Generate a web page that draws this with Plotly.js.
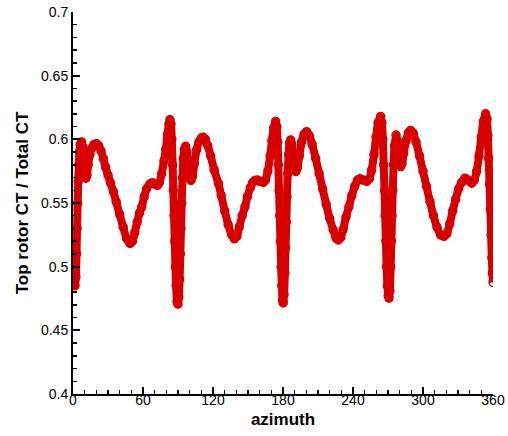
<!DOCTYPE html>
<html>
<head>
<meta charset="utf-8">
<script src="https://cdn.plot.ly/plotly-3.0.1.min.js"></script>
<style>
  html, body { margin: 0; padding: 0; background: #ffffff; }
  #chart { width: 508px; height: 436px; }
</style>
</head>
<body>
<div id="chart"></div>
<script>
// azimuth (deg)
const azimuth = [
  0, 0.5, 1, 1.7, 2.5, 3, 3.5, 4, 4.5, 5, 5.5, 6.2, 7.4, 8.3, 9, 10, 11.1, 12, 13, 14.5,
  16, 18, 20.3, 22, 24, 26, 28, 30, 32, 34.6, 37, 40, 43, 46, 48.9, 51, 53, 55, 57, 58.9,
  61, 63, 66, 68, 70, 72.3, 74, 76, 78, 79.5, 81, 82.2, 83.1, 84, 84.7, 85.4, 86, 86.6, 87.2, 87.8,
  88.4, 89.2, 90.0, 90.7, 91.4, 92, 92.6, 93.2, 93.9, 94.6, 95.4, 96.6, 97.6, 98.5, 99.5, 101.1, 102.5, 104, 106, 108,
  110, 111.7, 113.5, 115.5, 118, 121, 124.6, 127, 130, 133, 136, 138.3, 140.5, 142.5, 145, 147.4, 149.5, 152, 154, 156,
  158, 160, 163.1, 165, 167, 169, 170.5, 172, 173.7, 174.7, 175.4, 176, 176.6, 177.2, 177.8, 178.4, 179, 179.6, 180.2, 180.9,
  181.6, 182.2, 182.8, 183.4, 184, 184.8, 185.6, 186.6, 187.6, 188.6, 189.8, 191.1, 192.5, 194, 196, 198, 200.3, 202.5, 205, 208,
  211, 214, 217, 220, 223, 225.5, 227.4, 229.5, 231.5, 234, 236.5, 239, 241.5, 244, 246, 248.5, 251.7, 254, 256, 258,
  259.8, 261.5, 263.7, 264.8, 265.6, 266.3, 267, 267.6, 268.2, 268.8, 269.5, 270.2, 270.9, 271.6, 272.3, 272.9, 273.5, 274.1, 274.8, 275.6,
  276.9, 277.9, 278.9, 280, 280.9, 282, 283.5, 285.5, 287.5, 289.4, 291.5, 294, 297, 300, 303, 306, 309, 312, 315, 318,
  320.5, 323, 325.5, 328, 330.5, 333, 336, 338.5, 341.7, 344, 346, 348, 350, 351.7, 353.7, 354.8, 355.6, 356.3, 357, 357.7,
  358.4, 359, 359.5, 360
];
// Top rotor CT / Total CT
const ctRatio = [
  0.508, 0.498, 0.489, 0.485, 0.492, 0.510, 0.530, 0.550, 0.567, 0.580, 0.590, 0.596, 0.598, 0.594, 0.585, 0.574, 0.5695, 0.572, 0.580, 0.588,
  0.593, 0.596, 0.5965, 0.595, 0.591, 0.585, 0.578, 0.572, 0.566, 0.559, 0.551, 0.541, 0.531, 0.522, 0.5182, 0.520, 0.527, 0.535, 0.542, 0.547,
  0.555, 0.561, 0.565, 0.566, 0.565, 0.5638, 0.566, 0.573, 0.583, 0.592, 0.604, 0.612, 0.6154, 0.612, 0.600, 0.580, 0.560, 0.540, 0.520, 0.500,
  0.485, 0.4725, 0.4706, 0.476, 0.490, 0.510, 0.530, 0.550, 0.570, 0.585, 0.592, 0.5945, 0.590, 0.580, 0.571, 0.5677, 0.571, 0.581, 0.592, 0.598,
  0.601, 0.6016, 0.600, 0.595, 0.587, 0.576, 0.5655, 0.556, 0.544, 0.533, 0.525, 0.5219, 0.524, 0.531, 0.540, 0.547, 0.555, 0.562, 0.566, 0.5677,
  0.568, 0.567, 0.5661, 0.568, 0.575, 0.587, 0.599, 0.609, 0.6141, 0.610, 0.598, 0.580, 0.560, 0.540, 0.520, 0.500, 0.485, 0.4735, 0.4715, 0.478,
  0.495, 0.515, 0.535, 0.555, 0.573, 0.588, 0.597, 0.5995, 0.596, 0.586, 0.577, 0.5747, 0.578, 0.587, 0.598, 0.604, 0.606, 0.603, 0.596, 0.585,
  0.573, 0.561, 0.549, 0.538, 0.529, 0.5225, 0.521, 0.523, 0.529, 0.539, 0.547, 0.556, 0.563, 0.568, 0.569, 0.568, 0.567, 0.569, 0.576, 0.588,
  0.602, 0.613, 0.618, 0.613, 0.600, 0.580, 0.560, 0.540, 0.520, 0.500, 0.485, 0.477, 0.4753, 0.481, 0.500, 0.520, 0.540, 0.560, 0.580, 0.595,
  0.6034, 0.599, 0.589, 0.581, 0.5786, 0.581, 0.589, 0.599, 0.605, 0.607, 0.605, 0.598, 0.587, 0.575, 0.563, 0.551, 0.540, 0.531, 0.525, 0.5237,
  0.526, 0.534, 0.544, 0.553, 0.561, 0.566, 0.5695, 0.568, 0.5656, 0.568, 0.575, 0.587, 0.602, 0.614, 0.620, 0.616, 0.603, 0.585, 0.565, 0.545,
  0.525, 0.507, 0.495, 0.4876
];

const xTickVals = [0, 60, 120, 180, 240, 300, 360];
const yTickVals = [0.4, 0.45, 0.5, 0.55, 0.6, 0.65, 0.7];

const red = '#d60000';
const font = 'Arial, "Liberation Sans", Helvetica, sans-serif';

const trace = {
  x: azimuth,
  y: ctRatio,
  type: 'scatter',
  mode: 'lines+markers',
  line: { color: red, width: 8, shape: 'spline', smoothing: 0.6 },
  marker: { symbol: 'circle-open', size: 8, color: red, line: { color: red, width: 1.5 } },
  hoverinfo: 'skip',
  cliponaxis: true
};

const axisCommon = {
  showgrid: false,
  zeroline: false,
  showline: true,
  linecolor: '#000',
  linewidth: 2,
  ticks: 'inside',
  ticklen: 7,
  tickwidth: 2,
  tickcolor: '#000',
  mirror: false,
  tickfont: { family: font, size: 14, color: '#000' }
};

const layout = {
  width: 508,
  height: 436,
  margin: { l: 73, r: 15, t: 12, b: 42 },
  paper_bgcolor: '#fff',
  plot_bgcolor: '#fff',
  showlegend: false,
  xaxis: Object.assign({}, axisCommon, {
    range: [0, 360],
    tickvals: xTickVals,
    ticklabelstandoff: -8,
    minor: { dtick: 10, ticks: 'inside', ticklen: 4, tickwidth: 1.5, tickcolor: '#000', showgrid: false },
    title: { text: '<b>azimuth</b>', font: { family: font, size: 17, color: '#000' }, standoff: 6 }
  }),
  yaxis: Object.assign({}, axisCommon, {
    range: [0.4, 0.7],
    tickvals: yTickVals,
    minor: { dtick: 0.01, ticks: 'inside', ticklen: 4, tickwidth: 1.5, tickcolor: '#000', showgrid: false },
    title: { text: '<b>Top rotor CT / Total CT</b>', font: { family: font, size: 17, color: '#000' }, standoff: 8 }
  })
};

Plotly.newPlot('chart', [trace], layout, { displayModeBar: false, staticPlot: true });
</script>
</body>
</html>
